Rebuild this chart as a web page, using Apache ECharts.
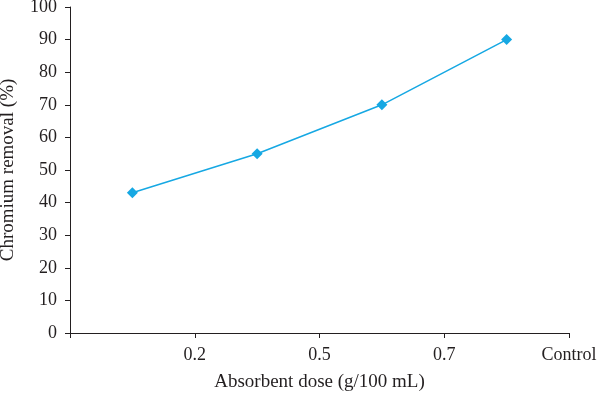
<!DOCTYPE html>
<html>
<head>
<meta charset="utf-8">
<script src="https://cdn.jsdelivr.net/npm/echarts@6/dist/echarts.min.js"></script>
<style>
  html, body { margin: 0; padding: 0; background: #fff; }
  #chart { width: 600px; height: 397px; }
</style>
</head>
<body>
<div id="chart"></div>
<script>
// dose groups (labels sit on the right tick of each group)
const doses = ['0.2', '0.5', '0.7', 'Control']
const removal = [43, 55, 70, 90]
const yTicks = [0, 100, 10] // min, max, step

const font = 'Liberation Serif'
const ink = '#231f20'

const chart = echarts.init(document.getElementById('chart'))
chart.setOption({
  animation: false,
  grid: { left: 70, right: 31, top: 7, bottom: 64, outerBoundsMode: 'none' },
  xAxis: {
    type: 'value',
    min: 0,
    max: doses.length,
    interval: 1,
    name: 'Absorbent dose (g/100 mL)',
    nameLocation: 'middle',
    nameGap: 40,
    nameTextStyle: { fontFamily: font, fontSize: 19, color: ink },
    axisLine: { show: true, lineStyle: { color: ink, width: 1 } },
    axisTick: { show: true, inside: false, length: 5, lineStyle: { color: ink } },
    splitLine: { show: false },
    axisLabel: {
      margin: 13,
      fontFamily: font,
      fontSize: 18,
      color: ink,
      formatter: v => (v === 0 ? '' : doses[v - 1])
    }
  },
  yAxis: {
    type: 'value',
    min: yTicks[0],
    max: yTicks[1],
    interval: yTicks[2],
    name: 'Chromium removal (%)',
    nameLocation: 'middle',
    nameGap: 52,
    nameTextStyle: { fontFamily: font, fontSize: 19, color: ink },
    axisLine: { show: true, lineStyle: { color: ink, width: 1 } },
    axisTick: { show: true, inside: false, length: 5, lineStyle: { color: ink } },
    splitLine: { show: false },
    axisLabel: { margin: 13, fontFamily: font, fontSize: 18, color: ink }
  },
  series: [
    {
      type: 'line',
      data: removal.map((v, i) => [i + 0.5, v]),
      symbol: 'diamond',
      symbolSize: 11,
      lineStyle: { color: '#16a8e3', width: 1.5 },
      itemStyle: { color: '#16a8e3' }
    }
  ]
})
</script>
</body>
</html>
